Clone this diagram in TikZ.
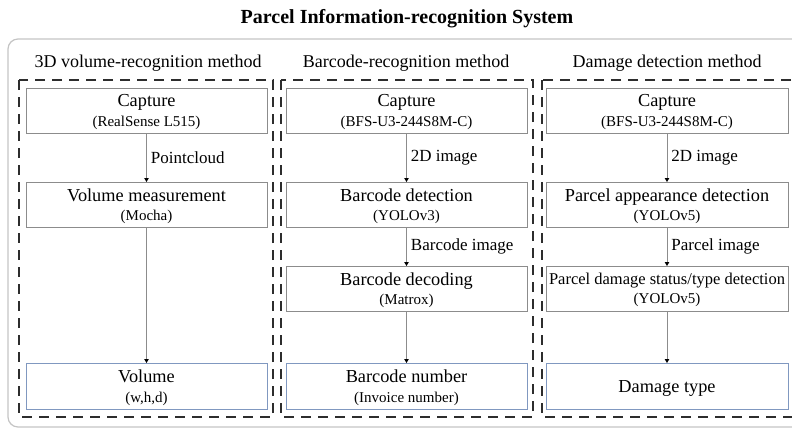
\documentclass[tikz,border=0pt]{standalone}
\usepackage{fontspec}
\setmainfont{Liberation Serif}
\usetikzlibrary{positioning,arrows.meta}
\definecolor{boxgray}{RGB}{140,140,140}
\definecolor{boxblue}{RGB}{128,152,192}
\definecolor{framegray}{RGB}{196,196,196}
\definecolor{dashgray}{RGB}{45,45,45}
\newcommand{\stage}[2]{{\fontsize{18.3}{19.5}\selectfont #1}\\{#2}}
\begin{document}
\begin{tikzpicture}
    [
      x=1pt, y=-1pt,
      stagebox/.style=
      {
        draw=boxgray,
        line width=0.9pt,
        fill=white,
        align=center,
        minimum width=241pt,
        minimum height=45pt,
        inner sep=0pt,
        outer sep=0pt,
        text depth=-6pt,
        text=black,
        font=\fontsize{15}{19.5}\selectfont
      },
      resultbox/.style=
      {
        stagebox,
        draw=boxblue,
        minimum height=46pt
      },
      panel/.style=
      {
        draw=dashgray,
        line width=2.4pt,
        dash pattern=on 10pt off 7pt
      },
      flow/.style=
      {
        draw=boxgray,
        line width=0.9pt,
        -{Triangle[length=4pt,width=4.5pt,color=black]}
      },
      lbl/.style=
      {
        inner sep=0pt,
        font=\fontsize{17}{20}\selectfont
      },
      hdr/.style=
      {
        inner sep=0pt,
        font=\fontsize{18}{20}\selectfont
      }
    ]
    \clip (0,0) rectangle (792,429);
    % outer frame and headings
    \draw[framegray, line width=1.2pt, rounded corners=10pt] (8,39) rectangle (806,427);
    \node[inner sep=0pt, font=\fontsize{20}{22}\selectfont\bfseries] (TheTitle) at (407,19)
      {Parcel Information-recognition System};
    \node[hdr] (hdrvol) at (148,63) {3D volume-recognition method};
    \node[hdr] (hdrbar) at (406,63) {Barcode-recognition method};
    \node[hdr] (hdrdmg) at (667,63) {Damage detection method};
    % dashed panels
    \draw[panel] (19,80) rectangle (273,417);
    \draw[panel] (281,80) rectangle (533,417);
    \draw[panel] (542,80) rectangle (797,417);
    % 3D volume column
    \node[stagebox] (capvol) at (146.5,110.5)
      {\stage{Capture}{(RealSense L515)}};
    \node[stagebox, below=49pt of capvol] (measure)
      {\stage{Volume measurement}{(Mocha)}};
    \node[resultbox, below=136pt of measure] (volume)
      {\stage{Volume}{(w,h,d)}};
    % barcode column
    \node[stagebox] (capbar) at (406.5,110.5)
      {\stage{Capture}{(BFS-U3-244S8M-C)}};
    \node[stagebox, below=49pt of capbar] (detect)
      {\stage{Barcode detection}{(YOLOv3)}};
    \node[stagebox, below=39pt of detect] (decode)
      {\stage{Barcode decoding}{(Matrox)}};
    \node[resultbox, below=52pt of decode] (barnum)
      {\stage{Barcode number}{(Invoice number)}};
    % damage column
    \node[stagebox, minimum width=242pt] (capdmg) at (667,110.5)
      {\stage{Capture}{(BFS-U3-244S8M-C)}};
    \node[stagebox, minimum width=242pt, below=49pt of capdmg] (appear)
      {\stage{Parcel appearance detection}{(YOLOv5)}};
    \node[stagebox, minimum width=242pt, below=39pt of appear] (status)
      {{\fontsize{16.5}{19.5}\selectfont Parcel damage status/type detection}\\{(YOLOv5)}};
    \node[resultbox, minimum width=242pt, text depth=-6pt, below=52pt of status] (dmgtype)
      {{\fontsize{18.3}{20}\selectfont Damage type}};
    % connectors
    \draw[flow] (capvol) -- node[lbl, right=4pt] (pcl) {Pointcloud} (measure);
    \draw[flow] (measure) -- (volume);
    \draw[flow] (capbar) -- node[lbl, right=4pt] (imgbar) {2D image} (detect);
    \draw[flow] (detect) -- node[lbl, right=4pt] (imgcode) {Barcode image} (decode);
    \draw[flow] (decode) -- (barnum);
    \draw[flow] (capdmg) -- node[lbl, right=4pt] (imgdmg) {2D image} (appear);
    \draw[flow] (appear) -- node[lbl, right=4pt] (imgparcel) {Parcel image} (status);
    \draw[flow] (status) -- (dmgtype);
\end{tikzpicture}
\end{document}
